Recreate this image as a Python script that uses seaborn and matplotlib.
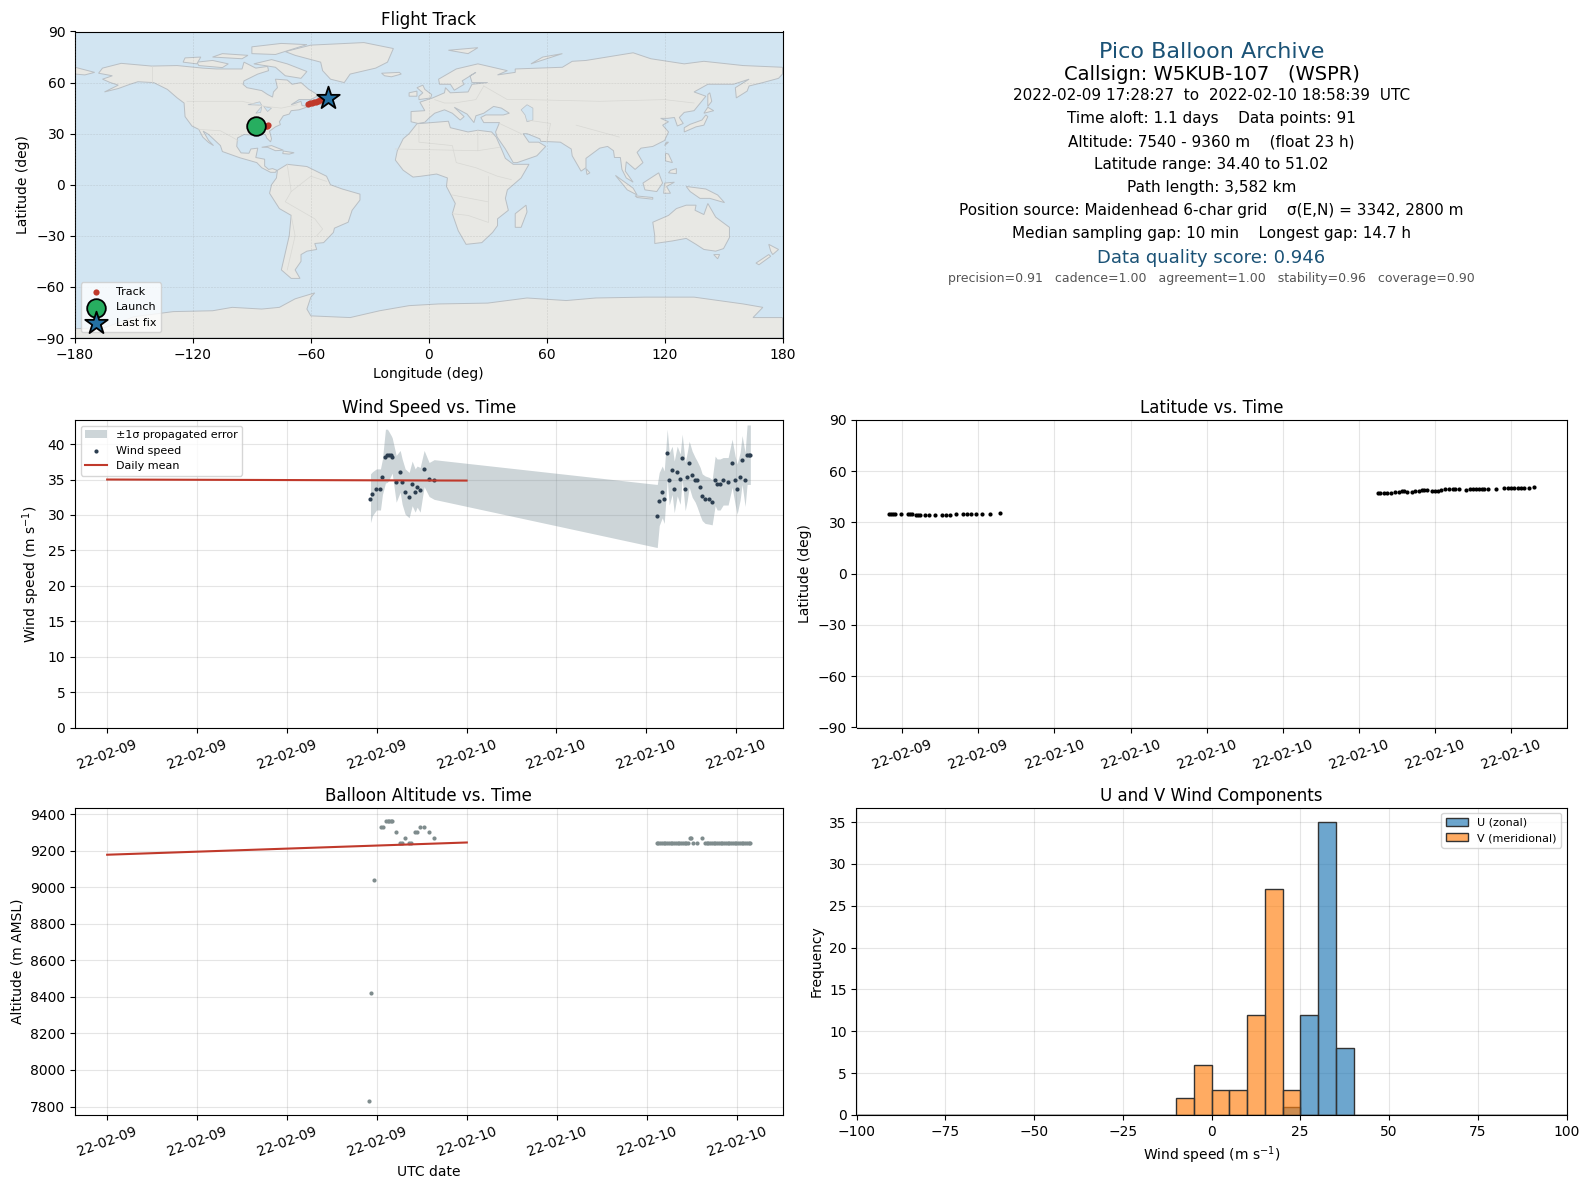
import numpy as np
import pandas as pd
import matplotlib
matplotlib.use("Agg")
import matplotlib.pyplot as plt
import matplotlib.dates as mdates
import seaborn as sns

# wind speed samples
wind_times = ["17:35", "17:43", "17:59", "18:15", "18:23", "18:35", "18:43", "18:50", "18:58", "19:02", "19:18",
              "19:34", "19:42", "19:54", "20:10", "20:22", "20:34", "20:42", "20:54", "21:10", "21:30", "21:50"]
wind_speed = [32.3, 33.0, 33.6, 33.6, 35.4, 38.2, 38.4, 38.4, 38.4, 38.2, 34.7,
              36.1, 34.7, 33.3, 32.5, 34.4, 33.3, 34.0, 33.5, 36.5, 35.1, 35.0]
wind_upper = [35.8, 36.1, 36.5, 36.5, 37.9, 42.1, 42.1, 41.7, 41.2, 40.9, 38.4,
              39.1, 37.9, 36.5, 36.0, 37.6, 36.5, 36.9, 36.7, 39.1, 37.4, 37.8]
wind_lower = [28.9, 29.9, 30.7, 30.7, 32.9, 34.5, 34.6, 35.0, 35.6, 35.9, 31.8,
              33.2, 31.5, 30.1, 29.6, 31.3, 30.4, 31.1, 30.4, 34.0, 32.6, 32.2]
wind_times2 = ["12:44", "12:52", "13:04", "13:12", "13:24", "13:32", "13:44", "13:52", "14:04", "14:16", "14:24", "14:36",
               "14:44", "14:52", "15:04", "15:16", "15:24", "15:36", "15:44", "15:56", "16:12", "16:24", "16:36", "16:44",
               "16:56", "17:08", "17:28", "17:44", "17:56", "18:04", "18:16", "18:24", "18:36", "18:44", "18:52", "18:57"]
wind_speed2 = [29.9, 32.0, 33.3, 32.3, 38.7, 35.0, 36.4, 33.7, 36.1, 35.1, 38.1, 33.7,
               35.4, 37.3, 35.7, 35.0, 35.0, 33.9, 32.7, 32.2, 32.2, 31.8, 34.9, 34.3,
               34.3, 34.9, 34.7, 37.3, 35.0, 33.7, 35.4, 37.7, 34.9, 38.5, 38.5, 38.5]
wind_upper2 = [34.3, 36.0, 36.9, 36.2, 42.1, 38.8, 39.7, 37.6, 39.7, 38.6, 41.4, 37.4,
               38.8, 40.4, 39.0, 38.1, 37.6, 36.7, 35.8, 35.5, 35.3, 35.0, 38.3, 37.9,
               37.9, 38.1, 38.1, 40.7, 38.3, 37.2, 38.8, 41.2, 38.8, 42.7, 42.7, 42.7]
wind_lower2 = [25.4, 28.5, 29.6, 28.8, 35.0, 31.4, 32.9, 30.3, 32.7, 31.5, 35.0, 30.6,
               32.0, 33.9, 32.5, 31.8, 31.1, 29.9, 29.2, 28.8, 28.7, 28.6, 31.3, 30.7,
               30.7, 31.4, 31.4, 33.9, 31.5, 30.1, 32.1, 34.3, 31.2, 34.3, 34.3, 34.3]
wind_mean_days = ["2022-02-09 00:00", "2022-02-10 00:00"]
wind_mean = [35.0, 34.85]

# latitude samples
lat_times = ["17:28", "17:34", "17:39", "17:43", "17:58", "18:14", "18:19", "18:24", "18:33", "18:38", "18:43", "18:54",
             "19:04", "19:18", "19:35", "19:44", "19:54", "20:08", "20:24", "20:34", "20:43", "20:55", "21:09", "21:28", "21:50"]
lat_values = [35.0, 35.0, 35.0, 35.0, 35.0, 35.2, 35.2, 35.0, 34.6, 34.4, 34.4, 34.4,
              34.4, 34.4, 34.4, 34.4, 34.4, 35.0, 35.0, 35.0, 35.0, 35.0, 35.0, 35.0, 35.6]
lat_times2 = ["12:45", "12:51", "12:59", "13:07", "13:15", "13:25", "13:34", "13:41", "13:47", "13:55", "14:05", "14:13",
              "14:23", "14:29", "14:35", "14:42", "14:53", "15:00", "15:07", "15:14", "15:23", "15:34", "15:43", "15:47",
              "15:57", "16:13", "16:23", "16:31", "16:38", "16:44", "16:52", "16:56", "17:06", "17:25", "17:44", "17:52",
              "18:01", "18:08", "18:16", "18:24", "18:31", "18:42", "18:55"]
lat_values2 = [47.5, 47.5, 47.5, 47.5, 47.5, 47.9, 48.1, 48.3, 48.3, 48.1, 48.1, 48.3,
               48.7, 48.9, 48.9, 48.9, 48.7, 48.7, 48.7, 48.9, 49.5, 49.7, 49.5, 49.5,
               49.5, 49.3, 49.7, 49.9, 49.9, 49.9, 49.9, 49.9, 49.9, 49.9, 50.4, 50.4,
               50.4, 50.4, 50.4, 50.4, 50.4, 50.4, 51.02]

# altitude samples
alt_times = ["17:28", "17:36", "17:50", "18:15", "18:23", "18:35", "18:43", "18:50", "18:58", "19:02", "19:18", "19:34",
             "19:42", "19:54", "20:10", "20:18", "20:34", "20:42", "20:54", "21:10", "21:30", "21:50"]
alt_values = [7830, 8420, 9040, 9330, 9330, 9360, 9360, 9360, 9360, 9360, 9300, 9240,
              9240, 9270, 9240, 9240, 9300, 9300, 9330, 9330, 9300, 9270]
alt_times2 = ["12:40", "12:47", "12:54", "13:01", "13:08", "13:15", "13:22", "13:29", "13:36", "13:43", "13:50", "13:57",
              "14:04", "14:11", "14:18", "14:25", "14:32", "14:39", "14:46", "14:52", "14:59", "15:07", "15:20", "15:40",
              "15:53", "16:00", "16:07", "16:14", "16:21", "16:28", "16:35", "16:42", "16:49", "16:56", "17:03", "17:10",
              "17:17", "17:24", "17:31", "17:38", "17:45", "17:52", "17:59", "18:06", "18:13", "18:20", "18:27", "18:34",
              "18:41", "18:48", "18:55"]
alt_values2 = [9240] * 18 + [9240, 9270, 9270, 9240, 9240, 9270] + [9240] * 27
alt_mean = [9178, 9245]

# histogram counts, 5 m/s bins
bin_edges = list(range(-100, 105, 5))
u_bins = [22.5, 27.5, 32.5, 37.5]
u_counts = [1, 12, 35, 8]
v_bins = [-7.5, -2.5, 2.5, 7.5, 12.5, 17.5, 22.5]
v_counts = [2, 6, 3, 3, 12, 27, 3]

# flight track
track_lon = [-87.8, -87.0, -86.2, -85.4, -84.6, -83.8, -83.0, -82.2, -81.6,
             -61.5, -60.5, -59.5, -58.5, -57.5, -56.5, -55.5, -54.5, -53.5, -52.5, -51.2]
track_lat = [34.4, 34.5, 34.7, 34.5, 34.4, 34.4, 34.7, 34.7, 35.3,
             47.5, 47.8, 48.1, 48.4, 48.7, 49.2, 49.6, 49.9, 50.2, 50.5, 51.02]

# coastlines, (lon, lat) estimated
north_america = [(-168, 65.5), (-166, 68.5), (-156.5, 71.3), (-141, 69.7), (-128, 70), (-115, 68.5), (-108, 68), (-95, 68),
                 (-94, 72), (-88, 68.5), (-82, 69.5), (-81.5, 67), (-87, 65), (-94, 61), (-94.5, 59), (-92.5, 57), (-85, 55.3),
                 (-82, 53), (-79.5, 51.5), (-79, 54.5), (-77, 57), (-78, 62), (-72, 61.5), (-69.5, 59), (-65, 60), (-61, 56),
                 (-56, 52.5), (-60, 50), (-66, 50), (-70, 47), (-65, 49), (-64.5, 46.5), (-61, 46), (-66, 44), (-70, 43.5),
                 (-71, 41.5), (-74, 40.5), (-76, 37), (-75.5, 35.3), (-78, 34), (-81, 31.5), (-80, 27), (-80.5, 25.2),
                 (-82.5, 27.5), (-83, 29.3), (-85, 29.7), (-89, 30.2), (-90, 29.2), (-94, 29.5), (-97.3, 27.5), (-97.7, 22.5),
                 (-95.5, 18.7), (-91.5, 18.5), (-90.5, 21), (-87, 21.5), (-88, 16), (-83.5, 15), (-83.5, 11), (-81.5, 9),
                 (-79.5, 9.5), (-77.3, 8.5), (-78, 7.3), (-80.5, 7.3), (-85, 10), (-87.5, 13), (-92, 14.5), (-96, 15.8),
                 (-105, 19.5), (-106, 23), (-112, 29.5), (-114.8, 31.5), (-112, 26), (-109.5, 23), (-112, 24.8), (-115, 28),
                 (-117, 32.5), (-120.5, 34.5), (-124, 40), (-124.5, 48), (-128, 51), (-133, 56), (-140, 60), (-148, 60.5),
                 (-152, 59), (-158, 56.5), (-165, 54.5), (-158, 58.5), (-162, 60), (-166, 62), (-161, 64)]
south_america = [(-77, 8.5), (-72, 12), (-62, 10.7), (-52, 5), (-50, 0), (-44, -2.5), (-35, -5.5), (-35, -9), (-39, -15),
                 (-41, -22), (-48, -25.5), (-48.5, -28), (-53.5, -34), (-58, -34.5), (-57, -38), (-62, -39), (-65, -41),
                 (-65, -45), (-68, -50), (-65.5, -55), (-70, -55), (-75, -50), (-73, -40), (-71, -30), (-70, -18), (-76, -14),
                 (-81, -5), (-80, 0), (-77.5, 4)]
africa = [(-6, 35.8), (10, 37.3), (11, 33.5), (20, 31), (25, 32), (32, 31), (34.3, 28), (37, 21), (39, 15.5), (43, 12), (51, 12),
          (47, 4), (40, -3), (39, -8), (40.5, -15), (35, -20), (35, -24), (32.5, -28), (27, -34), (19, -35), (15, -27), (12, -17),
          (13.5, -11), (9, -1), (9.5, 4), (4, 6.3), (-4, 5), (-8, 4.5), (-13, 8.5), (-17, 14.5), (-16, 20), (-13, 27), (-10, 30)]
eurasia = [(-9, 37), (-9, 43), (-2, 43.5), (-4.5, 48.5), (2, 51), (8, 54), (8.5, 57), (11, 54), (20, 54.5), (22, 59), (30, 60),
           (22, 60), (21, 64), (24, 66), (17, 61), (18, 59), (13, 55.5), (11, 59), (5.5, 59), (5, 62), (14, 68), (25, 71), (40, 67),
           (35, 64.5), (44, 66), (44, 68), (68, 69), (73, 72.5), (80, 73), (104, 77.5), (113, 74), (130, 71), (140, 72.5), (160, 70),
           (180, 69), (180, 65), (178, 62.5), (170, 60), (163, 58), (162, 55), (156.5, 51), (156, 57), (163, 62), (155, 59), (142, 59),
           (135, 54.5), (141, 52), (135, 43.5), (130, 42.5), (127.5, 39.5), (129.5, 36), (126.5, 34.5), (125, 39.5), (121.5, 39),
           (118, 39), (122, 37), (119, 35), (122, 31), (120, 26), (114, 22.5), (108, 21.5), (106, 19), (109, 13), (105, 9), (103, 11),
           (100.5, 13.5), (100, 8), (104, 1.5), (100.5, 4), (98.3, 9), (97.5, 16), (94.5, 16), (94, 20), (91, 22.5), (87, 21.5),
           (80, 15.5), (80, 10), (77.5, 8), (73, 17), (72.5, 21), (67, 25), (57, 25.5), (56.5, 27), (50, 30), (48, 30), (51, 25), (56, 25),
           (59.5, 22.5), (55, 17), (45, 13), (43, 13), (39, 21), (34.8, 28), (34, 31), (36, 36.5), (28, 36.5), (26.5, 39.5), (29, 41),
           (38, 41), (41, 42), (37, 45), (33, 46), (28, 42), (24, 40.5), (23, 36.5), (19.5, 41.5), (13, 45.5), (18, 40), (16, 38),
           (12, 42), (8, 44), (3, 42), (0, 39), (-2, 36.7), (-5.5, 36)]
australia = [(114, -22), (122, -18), (126, -14), (131, -12), (136, -12), (135.5, -15), (140, -17.5), (142, -11), (146, -19), (153, -25),
             (153, -31), (150, -37.5), (146, -39), (140, -38), (136, -35), (131, -31.5), (124, -33), (115, -34.5), (115, -30)]
antarctica = [(-180, -90), (-180, -84.5), (-165, -84), (-150, -77.5), (-130, -74.5), (-110, -74), (-100, -72), (-85, -73), (-76, -72),
              (-68, -67), (-58, -63.5), (-60, -66), (-62, -73), (-60, -77), (-40, -78), (-25, -74), (-10, -71), (5, -70), (30, -69.5),
              (50, -66.5), (70, -68), (85, -66.5), (110, -66), (135, -66), (160, -70), (170, -72), (165, -78), (180, -78), (180, -90)]
islands = [
    [(-73, 78.2), (-60, 82), (-33, 83.5), (-18, 80), (-21, 72), (-27, 68.5), (-40, 65), (-43, 60), (-50, 62), (-54, 67), (-55, 72), (-68, 76)],
    [(-80, 73.5), (-72, 71), (-62, 66.5), (-65, 62.5), (-73, 64), (-78, 69), (-89, 71)],
    [(-117, 70), (-105, 68.8), (-102, 71), (-110, 73), (-118, 72)],
    [(-90, 77), (-78, 76.5), (-62, 82.3), (-75, 83), (-90, 81)],
    [(-125, 72), (-118, 71), (-116, 75), (-124, 74.5)],
    [(-110, 75), (-95, 74), (-92, 76), (-105, 77)],
    [(-59, 47.7), (-53, 46.8), (-53, 49.5), (-56, 51.5)],
    [(-85, 22), (-80, 23), (-74, 20.3), (-78, 20), (-82, 22)],
    [(-74, 19.8), (-68.5, 18.8), (-71, 18), (-74.3, 18.3)],
    [(-5, 50), (1, 51), (1.5, 53), (-2, 56), (-3, 58.5), (-6, 57), (-3, 54), (-5, 52)],
    [(-10, 52), (-6, 52), (-6, 55), (-10, 54)],
    [(-24, 65.5), (-15, 66), (-14, 65), (-19, 63.4), (-22.5, 64)],
    [(49.5, -12), (50, -16), (47, -25), (44, -25), (44, -17)],
    [(130, 31), (136, 34), (140, 35), (142, 40), (141, 41), (139, 38), (133, 35.5), (130, 33.5)],
    [(140, 42), (145, 43.5), (142, 45.5)],
    [(142, 46), (144, 49), (143, 54), (142, 53)],
    [(120, 23), (122, 25), (121, 25)],
    [(120.5, 18.5), (122, 18), (124, 13), (120.5, 14)],
    [(122, 7), (126, 6.5), (126, 9.5), (123, 8.5)],
    [(95, 5.5), (104, -2), (106, -6), (101, -3)],
    [(105, -6.5), (114, -7.5), (114, -8.5), (106, -7.5)],
    [(109, 1), (117, 7), (119, 1), (116, -4), (110, -3)],
    [(119.5, -5), (120, 1), (125, 1.5), (121, -1), (123, -5)],
    [(131, -1), (141, -2.5), (147, -6), (150.5, -10.5), (143, -8), (138, -8), (133, -4)],
    [(145, -41), (148, -41), (147, -43.5)],
    [(173, -35), (178, -38), (175, -41), (174, -39)],
    [(173, -41), (174, -42), (168, -47), (166.5, -46)],
    [(80, 9.5), (82, 7), (80.5, 6)],
    [(10, 79), (25, 80.5), (20, 77)],
    [(52, 71), (68, 77), (58, 75)],
    [(-180, 69), (-170, 66), (-175, 64.5), (-180, 65)],
]
inland_water = [
    [(50, 47), (53, 45), (53, 38), (50, 37), (49, 41), (47, 44)],
    [(-92, 47), (-86, 48.7), (-85, 46.7)],
    [(-88, 42), (-85, 46), (-85.5, 42.5)],
    [(-84, 46), (-80, 45), (-82, 43)],
]
borders = [
    [(-123, 49), (-95, 49), (-83, 46), (-75, 45), (-67, 47)],
    [(-141, 69.7), (-141, 60)],
    [(-117, 32.5), (-106, 31.7), (-97, 26)],
    [(-52, 2), (-60, 5), (-70, -4), (-73, -10), (-58, -20), (-54, -26), (-57, -30)],
    [(-70, -18), (-68, -30), (-72, -50)],
    [(-72, 12), (-70, -4)],
    [(-17, 21), (25, 20), (25, 32)],
    [(25, 20), (36, 22)],
    [(-5, 35), (-5, 25), (12, 23), (14, 13), (24, 10), (35, 5), (42, 3)],
    [(30, -22), (20, -18), (12, -17)],
    [(30, -10), (12, -6)],
    [(30, -22), (30, 5)],
    [(3, 50), (8, 48), (13, 48), (24, 50), (28, 58)],
    [(28, 58), (40, 50), (50, 50), (87, 49), (120, 50), (135, 48)],
    [(75, 35), (97, 28)],
    [(60, 25), (62, 36), (50, 38)],
    [(36, 36), (47, 30)],
]

xtick_fmt = mdates.DateFormatter("%y-%m-%d")
info_lines = [
    ("Pico Balloon Archive", 16, "#1a5276", 0.933),
    ("Callsign: W5KUB-107   (WSPR)", 14, "black", 0.860),
    ("2022-02-09 17:28:27  to  2022-02-10 18:58:39  UTC", 11, "black", 0.790),
    ("Time aloft: 1.1 days    Data points: 91", 11, "black", 0.715),
    ("Altitude: 7540 - 9360 m    (float 23 h)", 11, "black", 0.640),
    ("Latitude range: 34.40 to 51.02", 11, "black", 0.567),
    ("Path length: 3,582 km", 11, "black", 0.491),
    ("Position source: Maidenhead 6-char grid    \u03c3(E,N) = 3342, 2800 m", 11, "black", 0.416),
    ("Median sampling gap: 10 min    Longest gap: 14.7 h", 11, "black", 0.341),
    ("Data quality score: 0.946", 13, "#1a5276", 0.261),
    ("precision=0.91   cadence=1.00   agreement=1.00   stability=0.96   coverage=0.90", 9, "#555555", 0.194),
]


def stamps(day, times):
    return pd.to_datetime([f"{day} {t}" for t in times])


def make_axes(fig, left, top, right, bottom):
    w, h = fig.get_size_inches() * fig.dpi
    return fig.add_axes([left / w, 1 - bottom / h, (right - left) / w, (bottom - top) / h])


fig = plt.figure(figsize=(15.89, 11.89), dpi=100)
ax_map = make_axes(fig, 75, 31.5, 782.5, 338)
ax_info = make_axes(fig, 856.5, 31.5, 1566.5, 338)
ax_wind = make_axes(fig, 75, 420, 782.5, 727.5)
ax_lat = make_axes(fig, 856.5, 420, 1566.5, 727.5)
ax_alt = make_axes(fig, 75, 807.5, 782.5, 1115)
ax_hist = make_axes(fig, 856.5, 807.5, 1566.5, 1115)

# track map
ocean = "#d2e5f2"
land = "#e8e8e4"
ax_map.set_facecolor(ocean)
for poly in [north_america, south_america, africa, eurasia, australia, antarctica] + islands:
    lons, lats = zip(*poly)
    ax_map.fill(lons, lats, facecolor=land, edgecolor="#b9bfc4", linewidth=0.7, zorder=1)
for poly in inland_water:
    lons, lats = zip(*poly)
    ax_map.fill(lons, lats, facecolor=ocean, edgecolor="#b9bfc4", linewidth=0.5, zorder=1.1)
for line in borders:
    lons, lats = zip(*line)
    ax_map.plot(lons, lats, color="#d8d8d4", linewidth=0.5, zorder=1.2)
sns.scatterplot(x=track_lon, y=track_lat, ax=ax_map, color="#c0392b", s=20, linewidth=0, label="Track", zorder=3)
sns.scatterplot(x=track_lon[:1], y=track_lat[:1], ax=ax_map, color="#27ae60", s=180, edgecolor="black", linewidth=1.3,
                label="Launch", zorder=5)
sns.scatterplot(x=track_lon[-1:], y=track_lat[-1:], ax=ax_map, color="#2471a3", s=290, marker="*", edgecolor="black",
                linewidth=1.3, label="Last fix", zorder=6)
ax_map.set_xlim(-180, 180)
ax_map.set_ylim(-90, 90)
ax_map.set_xticks(np.arange(-180, 181, 60))
ax_map.set_yticks(np.arange(-90, 91, 30))
ax_map.grid(True, linestyle="--", linewidth=0.4, color="gray", alpha=0.25)
ax_map.set_axisbelow(False)
ax_map.set_xlabel("Longitude (deg)")
ax_map.set_ylabel("Latitude (deg)")
ax_map.set_title("Flight Track", fontsize=12, pad=5)
ax_map.legend(loc="lower left", fontsize=8)

# info panel
ax_info.axis("off")
for text, size, color, ypos in info_lines:
    ax_info.text(0.5, ypos, text, transform=ax_info.transAxes, ha="center", va="center", fontsize=size, color=color)

# wind speed
t_wind = stamps("2022-02-09", wind_times).append(stamps("2022-02-10", wind_times2))
ws = wind_speed + wind_speed2
ax_wind.fill_between(t_wind, wind_lower + wind_lower2, wind_upper + wind_upper2, color="#708790", alpha=0.35, linewidth=0,
                     label="\u00b11\u03c3 propagated error")
sns.scatterplot(x=t_wind, y=ws, ax=ax_wind, color="#2c3e50", s=9, linewidth=0, label="Wind speed", zorder=3)
t_mean = pd.to_datetime(wind_mean_days)
sns.lineplot(x=t_mean, y=wind_mean, ax=ax_wind, color="#c0392b", linewidth=1.5, label="Daily mean", zorder=4)
ax_wind.set_ylim(0, 43.4)
ax_wind.set_yticks(np.arange(0, 45, 5))
ax_wind.set_ylabel("Wind speed (m s$^{-1}$)")
ax_wind.set_title("Wind Speed vs. Time", fontsize=12, pad=5)
ax_wind.legend(loc="upper left", fontsize=8)

# latitude
t_lat = stamps("2022-02-09", lat_times).append(stamps("2022-02-10", lat_times2))
sns.scatterplot(x=t_lat, y=lat_values + lat_values2, ax=ax_lat, color="black", s=9, linewidth=0)
ax_lat.set_ylim(-90, 90)
ax_lat.set_yticks(np.arange(-90, 91, 30))
ax_lat.set_ylabel("Latitude (deg)")
ax_lat.set_title("Latitude vs. Time", fontsize=12, pad=5)

# altitude
t_alt = stamps("2022-02-09", alt_times).append(stamps("2022-02-10", alt_times2))
sns.scatterplot(x=t_alt, y=alt_values + alt_values2, ax=ax_alt, color="#7f8c8d", s=9, linewidth=0)
sns.lineplot(x=t_mean, y=alt_mean, ax=ax_alt, color="#c0392b", linewidth=1.5)
ax_alt.set_ylabel("Altitude (m AMSL)")
ax_alt.set_title("Balloon Altitude vs. Time", fontsize=12, pad=5)

for ax, hours in [(ax_wind, [0, 6, 12, 18]), (ax_alt, [0, 6, 12, 18]), (ax_lat, range(0, 24, 3))]:
    ax.xaxis.set_major_locator(mdates.HourLocator(byhour=hours))
    ax.xaxis.set_major_formatter(xtick_fmt)
    ax.tick_params(axis="x", labelrotation=20)
    ax.grid(True, color="gray", alpha=0.2)
    ax.set_axisbelow(True)
ax_wind.set_xlabel("")
ax_lat.set_xlabel("")
ax_alt.set_xlabel("UTC date")

# wind components
sns.histplot(x=u_bins, weights=u_counts, bins=bin_edges, ax=ax_hist, color="tab:blue", alpha=0.65, edgecolor="#333333",
             label="U (zonal)")
sns.histplot(x=v_bins, weights=v_counts, bins=bin_edges, ax=ax_hist, color="tab:orange", alpha=0.65, edgecolor="#333333",
             label="V (meridional)")
ax_hist.set_xlim(-100, 100)
ax_hist.set_xticks(np.arange(-100, 101, 25))
ax_hist.set_xlabel("Wind speed (m s$^{-1}$)")
ax_hist.set_ylabel("Frequency")
ax_hist.set_title("U and V Wind Components", fontsize=12, pad=5)
ax_hist.grid(True, color="gray", alpha=0.2)
ax_hist.set_axisbelow(True)
ax_hist.legend(loc="upper right", fontsize=8)

fig.savefig("out.png", dpi=100)
